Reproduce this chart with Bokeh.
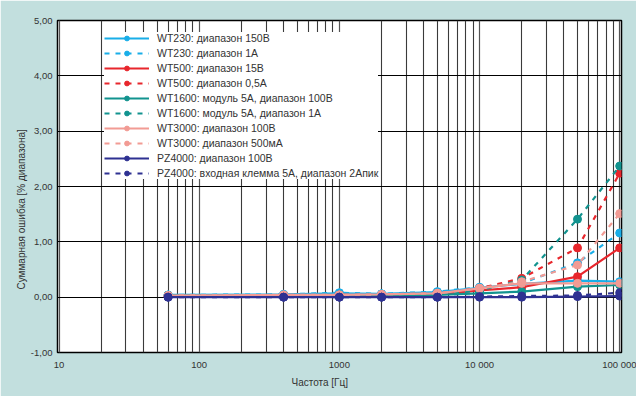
from bokeh.plotting import figure
from bokeh.models import Range1d, FixedTicker, Legend, LegendItem, Title
from bokeh.embed import file_html
from bokeh.resources import INLINE

freq = [60, 400, 1000, 2000, 5000, 10000, 20000, 50000, 100000]

wt230_150v = [0.04, 0.05, 0.07, 0.06, 0.09, 0.17, 0.24, 0.30, 0.28]
wt230_1a = [0.04, 0.05, 0.08, 0.06, 0.10, 0.18, 0.25, 0.62, 1.16]
wt500_15v = [0.02, 0.02, 0.03, 0.03, 0.05, 0.12, 0.18, 0.37, 0.89]
wt500_05a = [0.02, 0.03, 0.04, 0.04, 0.07, 0.16, 0.34, 0.89, 2.24]
wt1600_100v = [0.03, 0.03, 0.03, 0.03, 0.04, 0.07, 0.10, 0.19, 0.22]
wt1600_1a = [0.03, 0.03, 0.03, 0.03, 0.05, 0.12, 0.31, 1.41, 2.37]
wt3000_100v = [0.03, 0.04, 0.04, 0.05, 0.07, 0.16, 0.25, 0.25, 0.25]
wt3000_500ma = [0.03, 0.04, 0.04, 0.05, 0.07, 0.16, 0.28, 0.58, 1.51]
pz4000_100v = [0.00, 0.00, 0.00, 0.00, 0.00, 0.00, 0.00, 0.01, 0.02]
pz4000_5a = [0.00, 0.00, 0.00, 0.00, 0.00, 0.01, 0.02, 0.03, 0.08]

labels = [
    "WT230: диапазон 150В",
    "WT230: диапазон 1А",
    "WT500: диапазон 15В",
    "WT500: диапазон 0,5А",
    "WT1600: модуль 5А, диапазон 100В",
    "WT1600: модуль 5А, диапазон 1А",
    "WT3000: диапазон 100В",
    "WT3000: диапазон 500мА",
    "PZ4000: диапазон 100В",
    "PZ4000: входная клемма 5А, диапазон 2Апик",
]
series = [wt230_150v, wt230_1a, wt500_15v, wt500_05a, wt1600_100v,
          wt1600_1a, wt3000_100v, wt3000_500ma, pz4000_100v, pz4000_5a]
colors = ["#19aee8", "#19aee8", "#e8262c", "#e8262c", "#12938f",
          "#12938f", "#f29b94", "#f29b94", "#2e3192", "#2e3192"]
dashed = [False, True, False, True, False, True, False, True, False, True]

x_ticks = [10, 100, 1000, 10000, 100000]
x_tick_labels = ["10", "100", "1000", "10 000", "100 000"]
y_ticks = [-1, 0, 1, 2, 3, 4, 5]
y_tick_labels = ["-1,00", "0,00", "1,00", "2,00", "3,00", "4,00", "5,00"]

x_title = "Частота [Гц]"
y_title = "Суммарная ошибка  [% диапазона]"

BG = "#c2dfde"
FONT = "Liberation Sans"

p = figure(width=636, height=396, x_axis_type="log",
           x_range=Range1d(9.75, 103000), y_range=Range1d(-1, 5),
           output_backend="svg", toolbar_location=None,
           min_border_left=57, min_border_right=15,
           min_border_top=20, min_border_bottom=44)
p.border_fill_color = BG
p.background_fill_color = "white"
p.outline_line_color = "black"
p.outline_line_width = 1.5

minor = [m * d for d in [10, 100, 1000, 10000] for m in range(2, 10)]
p.xaxis.ticker = FixedTicker(ticks=x_ticks, minor_ticks=minor)
p.xaxis.major_label_overrides = {t: s for t, s in zip(x_ticks, x_tick_labels)}
p.yaxis.ticker = FixedTicker(ticks=y_ticks)
p.yaxis.major_label_overrides = {t: s for t, s in zip(y_ticks, y_tick_labels)}

for ax in (p.xaxis[0], p.yaxis[0]):
    ax.axis_line_color = None
    ax.major_tick_line_color = None
    ax.minor_tick_line_color = None
    ax.major_tick_out = 0
    ax.major_tick_in = 0
    ax.minor_tick_out = 0
    ax.minor_tick_in = 0
    ax.major_label_text_font = FONT
    ax.major_label_text_font_size = "9.5px"
    ax.major_label_text_color = "#333333"
p.xaxis.major_label_standoff = 6
p.yaxis.major_label_standoff = 5

p.xgrid.grid_line_color = "#555555"
p.xgrid.grid_line_width = 1.2
p.xgrid.minor_grid_line_color = "#3a3a3a"
p.xgrid.minor_grid_line_width = 1.1
p.ygrid.grid_line_color = "black"
p.ygrid.grid_line_width = 1

items = []
for vals, col, d, lab in zip(series, colors, dashed, labels):
    r1 = p.line(freq, vals, line_color=col, line_width=2.2,
                line_dash="5 6" if d else "solid")
    r2 = p.scatter(freq, vals, marker="circle", size=8,
                   fill_color=col, line_color=col)
    items.append(LegendItem(label=lab, renderers=[r1, r2]))

legend = Legend(items=items, location=(47, 173))
legend.padding = 3
legend.spacing = 3
legend.glyph_height = 12
legend.label_height = 12
legend.glyph_width = 45
legend.label_standoff = 8
legend.border_line_color = None
legend.background_fill_color = "white"
legend.background_fill_alpha = 1.0
legend.label_text_font = FONT
legend.label_text_font_size = "10.5px"
legend.label_text_color = "#333333"
p.add_layout(legend)

xt = Title(text=x_title, align="left", offset=234, standoff=4,
           text_font=FONT, text_font_size="10px", text_font_style="normal",
           text_color="#333333")
p.add_layout(xt, "below")
yt = Title(text=y_title, align="left", offset=63, standoff=2,
           text_font=FONT, text_font_size="10px", text_font_style="normal",
           text_color="#333333")
p.add_layout(yt, "left")

open("out.html", "w").write(file_html(p, INLINE))
